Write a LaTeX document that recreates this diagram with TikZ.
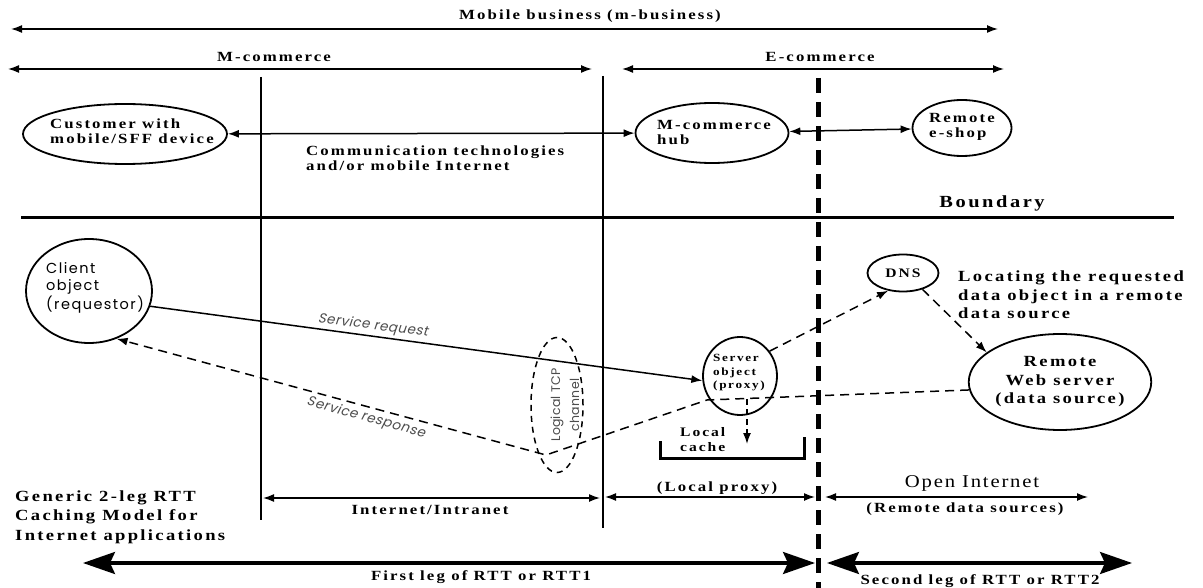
\documentclass[tikz,border=0pt]{standalone}
\usepackage{fontspec}
\usetikzlibrary{arrows.meta,shapes.geometric}
\setmainfont{Liberation Serif}
\newfontfamily\bsf{Liberation Serif}[FakeStretch=1.2,LetterSpace=15]
\newfontfamily\rsf{Liberation Serif}[FakeStretch=1.15,LetterSpace=10]
\newfontfamily\gsf{Poppins}[LetterSpace=10]
\newfontfamily\gsfi{Poppins}[FakeSlant=0.2,LetterSpace=4]
\newfontfamily\gsft{Poppins}[LetterSpace=2]
\begin{document}
\begin{tikzpicture}[x=1pt,y=-1pt,
  ln/.style={line width=1.5pt},
  onearr/.style={ln,-{Latex[length=11pt,width=8pt]}},
  twoarr/.style={ln,{Latex[length=11pt,width=8pt]}-{Latex[length=11pt,width=8pt]}},
  bigtwo/.style={line width=3.2pt,{Stealth[length=32pt,width=22pt,inset=5pt]}-{Stealth[length=32pt,width=22pt,inset=5pt]}},
  dsh/.style={ln,dash pattern=on 9pt off 6pt},
  ell/.style={draw,ellipse,line width=1.8pt,inner sep=0pt},
  bt/.style={inner sep=0pt,font={\fontsize{14}{15}\bsf\bfseries}},
  btm/.style={inner sep=0pt,font={\fontsize{15.5}{18.5}\bsf\bfseries}},
  bts/.style={inner sep=0pt,font={\fontsize{11}{13.5}\bsf\bfseries}},
  btc/.style={inner sep=0pt,font={\fontsize{13}{15}\bsf\bfseries}},
  btl/.style={inner sep=0pt,font={\fontsize{15.5}{19.5}\bsf\bfseries}},
  stx/.style={inner sep=0pt,font={\fontsize{14.5}{17}\gsf}},
  sit/.style={inner sep=0pt,text=black!70,font={\fontsize{13.5}{15}\gsfi}},
]
\useasboundingbox[fill=white] (0,0) rectangle (1203,588);

% ---- top span arrows
\coordinate (mbL) at (11,29); \coordinate (mbR) at (998,29);
\draw[twoarr] (mbL) -- (mbR);
\node[bt] (mbT) at (590,16) {Mobile business (m-business)};
\coordinate (mcL) at (8,69); \coordinate (mcR) at (592,69);
\draw[twoarr] (mcL) -- (mcR);
\node[bt] (mcT) at (274,57) {M-commerce};
\coordinate (ecL) at (622,69); \coordinate (ecR) at (1004,69);
\draw[twoarr] (ecL) -- (ecR);
\node[bt] (ecT) at (820,57) {E-commerce};

% ---- vertical separators
\coordinate (v1t) at (261,77); \coordinate (v1b) at (261,520);
\draw[line width=2pt] (v1t) -- (v1b);
\coordinate (v2t) at (603,76); \coordinate (v2b) at (603,528);
\draw[line width=2pt] (v2t) -- (v2b);
\coordinate (dvt) at (818,78); \coordinate (dvb) at (818,592);
\draw[line width=5pt,dash pattern=on 15pt off 9pt] (dvt) -- (dvb);

% ---- boundary
\coordinate (bL) at (21,218); \coordinate (bR) at (1174,218);
\draw[line width=3pt] (bL) -- (bR);
\node[inner sep=0pt,font={\fontsize{17}{18}\bsf\bfseries}] (bT) at (992,203) {Boundary};

% ---- upper row
\node[ell,minimum width=204pt,minimum height=60pt] (cust) at (125,134) {};
\node[bt,align=left,anchor=west] (custT) at (50,131) {Customer with\\mobile/SFF device};
\node[ell,minimum width=153pt,minimum height=60pt] (hub) at (712,133) {};
\node[bt,align=left,anchor=west] (hubT) at (657,133) {M-commerce\\hub};
\node[ell,minimum width=99pt,minimum height=56pt] (shop) at (962,128) {};
\node[bt,align=left,anchor=west] (shopT) at (929,127) {Remote\\e-shop};
\draw[twoarr] (cust) -- (hub);
\draw[twoarr] (hub) -- (shop);
\node[bt,align=left,anchor=west] (comm) at (306,158) {Communication technologies\\and/or mobile Internet};

% ---- lower row
\node[ell,minimum width=126pt,minimum height=104pt] (client) at (89,291) {};
\node[stx,align=left,anchor=west] (clientT) at (46,288) {Client\\object\\(requestor)};
\node[ell,minimum width=74pt,minimum height=78pt] (srv) at (740,376) {};
\node[bts,align=left,anchor=west] (srvT) at (713,373) {Server\\object\\(proxy)};
\node[ell,minimum width=71pt,minimum height=37pt,btc] (dns) at (903,273) {DNS};
\node[ell,minimum width=180pt,minimum height=96pt,btm,align=center] (rws) at (1060,382) {Remote\\Web server\\(data source)};
\node[draw,ellipse,inner sep=0pt,line width=1.5pt,dash pattern=on 6pt off 5pt,minimum width=52pt,minimum height=135pt] (tcp) at (557,405) {};
\node[inner sep=0pt,rotate=90,align=center,text=black!70,font={\fontsize{12.5}{19}\gsft}] (tcpT) at (565,405) {Logical TCP\\channel};
\node[btm,align=left,anchor=west] (loc) at (958,295) {Locating the requested\\data object in a remote\\data source};

% service request / response
\draw[onearr] (client.-14) -- (srv.187);
\node[sit,rotate=-7.4] (sreq) at (373,326) {Service request};
\coordinate (bend1) at (707,400);
\coordinate (vpt) at (546,455);
\draw[dsh,-{Latex[length=11pt,width=8pt]}] (rws.185) -- (bend1) -- (vpt) -- (client.-60);
\node[sit,rotate=-15.5] (sresp) at (366,418) {Service response};

% DNS lookups
\draw[dsh,-{Latex[length=11pt,width=8pt]}] (srv.40) -- (dns.-130);
\draw[dsh,-{Latex[length=11pt,width=8pt]}] (dns.-40) -- (rws.158);

% local cache
\coordinate (lcTop) at (747,399); \coordinate (lcTip) at (747,444);
\draw[ln,dash pattern=on 6pt off 4pt,-{Latex[length=11pt,width=8pt]}] (lcTop) -- (lcTip);
\draw[line width=3pt] (660,441) -- (660,458) -- (804,458) -- (804,437);
\node[btc,align=left,anchor=west] (lcT) at (680,440) {Local\\cache};

% ---- bottom spans
\coordinate (iiL) at (263,498); \coordinate (iiR) at (600,498);
\draw[twoarr] (iiL) -- (iiR);
\node[bt] (iiT) at (430,510) {Internet/Intranet};
\coordinate (lpL) at (605,497); \coordinate (lpR) at (815,497);
\draw[twoarr] (lpL) -- (lpR);
\node[bt] (lpT) at (717,488) {(Local proxy)};
\coordinate (oiL) at (825,497); \coordinate (oiR) at (1088,497);
\draw[twoarr] (oiL) -- (oiR);
\node[inner sep=0pt,font={\fontsize{18}{18}\rsf}] (oiT) at (972,483) {Open Internet};
\node[bt] (rdsT) at (965,509) {(Remote data sources)};

\node[btl,align=left,anchor=west] (gen) at (15,517) {Generic 2-leg RTT\\Caching Model for\\Internet applications};

\coordinate (flL) at (83,563); \coordinate (flR) at (815,563);
\draw[bigtwo] (flL) -- (flR);
\node[bt] (flT) at (481,577) {First leg of RTT or RTT1};
\coordinate (slL) at (827,563); \coordinate (slR) at (1132,563);
\draw[bigtwo] (slL) -- (slR);
\node[bt] (slT) at (980,581) {Second leg of RTT or RTT2};
\end{tikzpicture}
\end{document}
